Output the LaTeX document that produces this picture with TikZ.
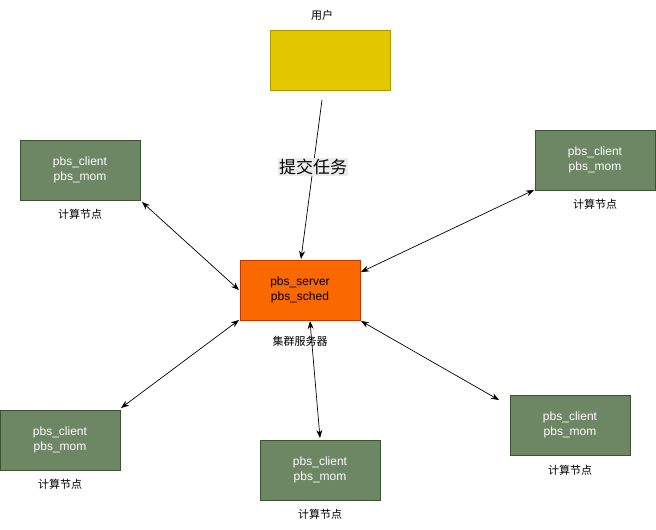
\documentclass[tikz,border=0pt]{standalone}
\usepackage{fontspec}
\setmainfont{Liberation Sans}
\newfontfamily\cjk{Noto Sans CJK SC}
\usetikzlibrary{arrows.meta}
\definecolor{gfill}{HTML}{6D8764}
\definecolor{gline}{HTML}{3A5431}
\definecolor{ofill}{HTML}{FA6800}
\definecolor{oline}{HTML}{C73500}
\definecolor{yfill}{HTML}{E3C800}
\definecolor{yline}{HTML}{B09500}
\definecolor{lblbg}{HTML}{EBEBEB}
\tikzset{
  box/.style={draw, line width=0.8pt, minimum width=120pt, minimum height=60pt, inner sep=0pt, align=center, font=\fontsize{12}{15}\selectfont},
  compute/.style={box, fill=gfill, draw=gline, text=white},
  server/.style={box, fill=ofill, draw=oline, text=black},
  user/.style={box, fill=yfill, draw=yline},
  capt/.style={font=\cjk\fontsize{11}{13}\selectfont, inner sep=0pt},
  link/.style={line width=0.7pt, {Stealth[length=8pt,width=6pt]}-{Stealth[length=8pt,width=6pt]}},
  oneway/.style={line width=0.7pt, -{Stealth[length=8pt,width=6pt]}}
}
\begin{document}
\begin{tikzpicture}[x=1pt,y=-1pt]
\useasboundingbox (0,0) rectangle (656,530);
\node[user] (u) at (330,60) {};
\node[capt] (ul) at (322,15) {用户};
\node[server] (s) at (300,290) {pbs\_server\\pbs\_sched};
\node[capt] (sl) at (300,341) {集群服务器};
\node[compute] (tl) at (80,170) {pbs\_client\\pbs\_mom};
\node[capt] (tll) at (80,214) {计算节点};
\node[compute] (tr) at (595,160) {pbs\_client\\pbs\_mom};
\node[capt] (trl) at (595,204) {计算节点};
\node[compute] (bl) at (60,440) {pbs\_client\\pbs\_mom};
\node[capt] (bll) at (60,484) {计算节点};
\node[compute] (bc) at (320,470) {pbs\_client\\pbs\_mom};
\node[capt] (bcl) at (320,514) {计算节点};
\node[compute] (br) at (570,425) {pbs\_client\\pbs\_mom};
\node[capt] (brl) at (570,470) {计算节点};
\coordinate (ua) at (322,100);
\coordinate (sa) at (301,259);
\draw[oneway] (ua) -- node[inner sep=1pt, font=\cjk\fontsize{17}{19}\selectfont, fill=lblbg, pos=0.42] (tl2) {提交任务} (sa);
\coordinate (a1) at (142,202); \coordinate (b1) at (239,290);
\coordinate (a2) at (534,190); \coordinate (b2) at (361,272);
\coordinate (a3) at (121,408); \coordinate (b3) at (239,320);
\coordinate (a4) at (320,438); \coordinate (b4) at (310,321);
\coordinate (a5) at (499,400); \coordinate (b5) at (361,321);
\draw[link] (a1) -- (b1);
\draw[link] (a2) -- (b2);
\draw[link] (a3) -- (b3);
\draw[link] (a4) -- (b4);
\draw[link] (a5) -- (b5);
\end{tikzpicture}
\end{document}
